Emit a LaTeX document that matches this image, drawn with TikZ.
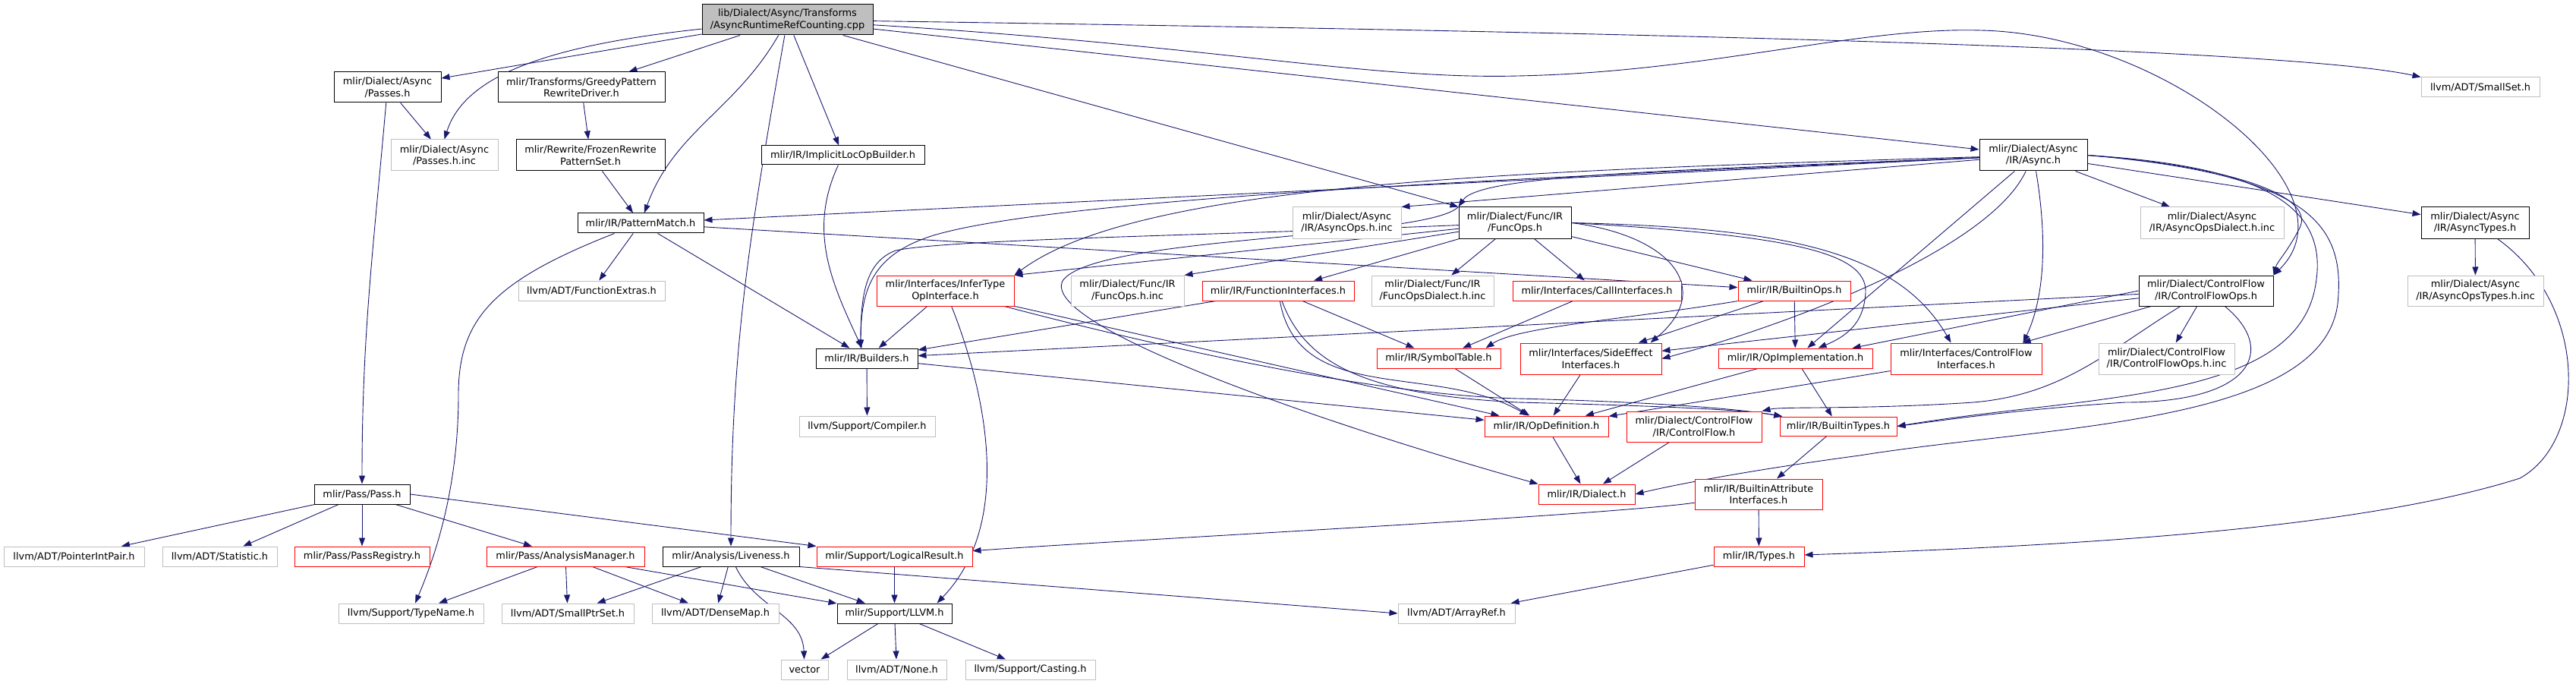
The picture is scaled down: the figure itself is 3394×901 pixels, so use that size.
\documentclass[tikz,border=0pt]{standalone}
\usepackage{fontspec}
\setmainfont{DejaVu Sans}
\usetikzlibrary{arrows.meta, backgrounds}
\definecolor{incE}{RGB}{ 25, 25,112}
\definecolor{incR}{RGB}{255,  0,  0}
\definecolor{incG}{RGB}{191,191,191}

\begin{document}
\begin{tikzpicture}[
    x=1pt, y=-1pt,
    hdr/.style={draw=black, fill=white, line width=1pt, inner sep=0pt, align=center,
                font={\fontsize{12.9}{15.6}\selectfont}},
    hdrred/.style={hdr, draw=incR},
    hdrgray/.style={hdr, draw=incG},
    hdrroot/.style={hdr, fill=incG},
    sz/.style 2 args={minimum width=#1pt, minimum height=#2pt},
    inc/.style={draw=incE, line width=0.9pt, -{Triangle[length=11pt, width=8pt]}}
  ]
  \useasboundingbox (0,0) rectangle (3394,901);

  % top rows
  \node[hdrroot, sz={225}{40}] (root) at (1037.5,26) {lib/Dialect/Async/Transforms\\/AsyncRuntimeRefCounting.cpp};
  \node[hdr, sz={141}{40}] (asyncpasses) at (510.5,115) {mlir/Dialect/Async\\/Passes.h};
  \node[hdr, sz={220}{40}] (greedy) at (766,115) {mlir/Transforms/GreedyPattern\\RewriteDriver.h};
  \node[hdrgray, sz={156}{26}] (smallset) at (3268,115) {llvm/ADT/SmallSet.h};
  \node[hdrgray, sz={141}{41}] (passesinc) at (585.5,204.5) {mlir/Dialect/Async\\/Passes.h.inc};
  \node[hdr, sz={196}{41}] (frozen) at (778,204.5) {mlir/Rewrite/FrozenRewrite\\PatternSet.h};
  \node[hdr, sz={215}{25}] (implicit) at (1110.5,204.5) {mlir/IR/ImplicitLocOpBuilder.h};
  \node[hdr, sz={142}{41}] (asyncir) at (2679,204.5) {mlir/Dialect/Async\\/IR/Async.h};
  \node[hdr, sz={166}{26}] (patternmatch) at (844,294) {mlir/IR/PatternMatch.h};
  \node[hdrgray, sz={143}{41}] (asyncopsinc) at (1774.5,293.5) {mlir/Dialect/Async\\/IR/AsyncOps.h.inc};
  \node[hdr, sz={148}{41}] (funcops) at (1996,293.5) {mlir/Dialect/Func/IR\\/FuncOps.h};
  \node[hdrgray, sz={189}{41}] (asyncdialectinc) at (2914.5,293.5) {mlir/Dialect/Async\\/IR/AsyncOpsDialect.h.inc};
  \node[hdr, sz={142}{41}] (asynctypes) at (3261,293.5) {mlir/Dialect/Async\\/IR/AsyncTypes.h};

  % middle rows
  \node[hdrgray, sz={193}{26}] (functionextras) at (779.5,383) {llvm/ADT/FunctionExtras.h};
  \node[hdrred, sz={181}{40}] (infertype) at (1245.5,383) {mlir/Interfaces/InferType\\OpInterface.h};
  \node[hdrgray, sz={149}{40}] (funcopsinc) at (1485.5,383) {mlir/Dialect/Func/IR\\/FuncOps.h.inc};
  \node[hdrred, sz={200}{26}] (funcinterfaces) at (1684,383) {mlir/IR/FunctionInterfaces.h};
  \node[hdrgray, sz={161}{40}] (funcdialectinc) at (1887.5,383) {mlir/Dialect/Func/IR\\/FuncOpsDialect.h.inc};
  \node[hdrred, sz={222}{26}] (callinterfaces) at (2104,383) {mlir/Interfaces/CallInterfaces.h};
  \node[hdrred, sz={148}{26}] (builtinops) at (2364,383) {mlir/IR/BuiltinOps.h};
  \node[hdr, sz={177}{40}] (cfops) at (2906.5,383) {mlir/Dialect/ControlFlow\\/IR/ControlFlowOps.h};
  \node[hdrgray, sz={179}{40}] (asynctypesinc) at (3261.5,383) {mlir/Dialect/Async\\/IR/AsyncOpsTypes.h.inc};
  \node[hdr, sz={134}{26}] (builders) at (1142,472) {mlir/IR/Builders.h};
  \node[hdrred, sz={163}{26}] (symboltable) at (1895.5,472) {mlir/IR/SymbolTable.h};
  \node[hdrred, sz={186}{41}] (sideeffect) at (2096,472.5) {mlir/Interfaces/SideEffect\\Interfaces.h};
  \node[hdrred, sz={203}{26}] (opimpl) at (2365.5,472) {mlir/IR/OpImplementation.h};
  \node[hdrred, sz={199}{41}] (cfinterfaces) at (2590.5,472.5) {mlir/Interfaces/ControlFlow\\Interfaces.h};
  \node[hdrgray, sz={179}{41}] (cfopsinc) at (2854.5,472.5) {mlir/Dialect/ControlFlow\\/IR/ControlFlowOps.h.inc};
  \node[hdrgray, sz={179}{27}] (compiler) at (1142.5,561.5) {llvm/Support/Compiler.h};
  \node[hdrred, sz={163}{27}] (opdef) at (2037.5,561.5) {mlir/IR/OpDefinition.h};
  \node[hdrred, sz={178}{40}] (cfh) at (2232,562) {mlir/Dialect/ControlFlow\\/IR/ControlFlow.h};
  \node[hdrred, sz={154}{25}] (builtintypes) at (2422,561.5) {mlir/IR/BuiltinTypes.h};

  % bottom rows
  \node[hdr, sz={126}{26}] (passh) at (477,651) {mlir/Pass/Pass.h};
  \node[hdrred, sz={127}{26}] (dialect) at (2090.5,651) {mlir/IR/Dialect.h};
  \node[hdrred, sz={168}{40}] (builtinattr) at (2317,651) {mlir/IR/BuiltinAttribute\\Interfaces.h};
  \node[hdrgray, sz={185}{26}] (pointerint) at (97.5,733) {llvm/ADT/PointerIntPair.h};
  \node[hdrgray, sz={151}{26}] (statistic) at (289.5,733) {llvm/ADT/Statistic.h};
  \node[hdrred, sz={178}{26}] (passregistry) at (477,733) {mlir/Pass/PassRegistry.h};
  \node[hdrred, sz={208}{26}] (analysismgr) at (745,733) {mlir/Pass/AnalysisManager.h};
  \node[hdr, sz={180}{26}] (liveness) at (963,733) {mlir/Analysis/Liveness.h};
  \node[hdrred, sz={205}{26}] (logicalresult) at (1178.5,733) {mlir/Support/LogicalResult.h};
  \node[hdrred, sz={119}{26}] (types) at (2317.5,733) {mlir/IR/Types.h};
  \node[hdrgray, sz={191}{26}] (typename) at (541.5,808) {llvm/Support/TypeName.h};
  \node[hdrgray, sz={174}{26}] (smallptrset) at (748,808) {llvm/ADT/SmallPtrSet.h};
  \node[hdrgray, sz={167}{26}] (densemap) at (942.5,808) {llvm/ADT/DenseMap.h};
  \node[hdr, sz={151}{26}] (llvmh) at (1178.5,808) {mlir/Support/LLVM.h};
  \node[hdrgray, sz={154}{26}] (arrayref) at (1919,808) {llvm/ADT/ArrayRef.h};
  \node[hdrgray, sz={62}{26}] (vector) at (1060,882) {vector};
  \node[hdrgray, sz={131}{26}] (none) at (1181.5,882) {llvm/ADT/None.h};
  \node[hdrgray, sz={171}{26}] (casting) at (1357.5,882) {llvm/Support/Casting.h};

  \begin{scope}[on background layer]
    % the source file
    \draw[inc] (root) -- (asyncpasses);
    \draw[inc] (root) .. controls (720,60) and (612,100) .. (passesinc.north);
    \draw[inc] (root) -- (greedy);
    \draw[inc] (root) to[out=-120, in=70] (patternmatch);
    \draw[inc] (root) to[out=-100, in=90] (liveness);
    \draw[inc] (root) -- (implicit);
    \draw[inc] (root) -- (funcops.north west);
    \draw[inc] (root) -- (asyncir);
    \draw[inc] (root) .. controls (2000,40) and (3000,60) .. (smallset.north west);
    \draw[inc] (root) .. controls (1600,60) and (1800,105) .. (2000,100)
      .. controls (2250,95) and (2450,35) .. (2610,40)
      .. controls (2850,45) and (3110,250) .. (cfops.north east);
    % Passes.h, rewrite driver
    \draw[inc] (asyncpasses) -- (passesinc);
    \draw[inc] (asyncpasses) to[out=-95, in=90] (passh);
    \draw[inc] (greedy) -- (frozen);
    \draw[inc] (frozen) -- (patternmatch);
    \draw[inc] (implicit) to[out=-115, in=115] (builders);
    % PatternMatch.h
    \draw[inc] (patternmatch) -- (functionextras);
    \draw[inc] (patternmatch) -- (builders);
    \draw[inc] (patternmatch) .. controls (650,370) and (604,420) .. (604,520)
      .. controls (604,650) and (570,740) .. (typename);
    \draw[inc] (patternmatch) -- (builtinops);
    % Async.h
    \draw[inc] (asyncir) -- (patternmatch);
    \draw[inc] (asyncir) -- (asyncopsinc.north east);
    \draw[inc] (asyncir) .. controls (2000,235) and (1400,260) .. (1230,310)
      .. controls (1150,335) and (1134,380) .. ([xshift=-8pt]builders.north);
    \draw[inc] (asyncir) .. controls (2000,225) and (1500,240) .. (infertype.north east);
    \draw[inc] (asyncir) .. controls (2200,225) and (1950,230) .. (funcops.north west);
    \draw[inc] (asyncir) -- (opimpl);
    \draw[inc] (asyncir) .. controls (2620,330) and (2350,430) .. (sideeffect.east);
    \draw[inc] (asyncir) .. controls (2700,330) and (2690,400) .. ([xshift=-25pt]cfinterfaces.north east);
    \draw[inc] (asyncir) -- (asyncdialectinc);
    \draw[inc] (asyncir) -- (asynctypes);
    \draw[inc] (asyncir.east) .. controls (2950,220) and (3050,260) .. (3030,300)
      .. controls (3015,330) and (3000,345) .. (cfops.north east);
    \draw[inc] (asyncir.east) .. controls (3000,220) and (3070,280) .. (3050,380)
      .. controls (3020,530) and (2750,520) .. (builtintypes.east);
    \draw[inc] (asyncir.east) .. controls (3050,230) and (3090,300) .. (3080,400)
      .. controls (3060,560) and (2700,560) .. (2450,600)
      .. controls (2300,620) and (2200,640) .. (dialect.east);
    % FuncOps.h
    \draw[inc] (funcops) -- (infertype.north east);
    \draw[inc] (funcops) -- (funcopsinc.north east);
    \draw[inc] (funcops) -- (funcinterfaces);
    \draw[inc] (funcops) -- (funcdialectinc);
    \draw[inc] (funcops) -- (callinterfaces);
    \draw[inc] (funcops) -- (builtinops);
    \draw[inc] (funcops) .. controls (1600,310) and (1250,315) .. (1180,330)
      .. controls (1140,345) and (1134,390) .. ([xshift=-8pt]builders.north);
    \draw[inc] (funcops.north west) .. controls (1880,315) and (1440,310) .. (1400,370)
      .. controls (1370,430) and (1750,560) .. (dialect.north west);
    \draw[inc] (funcops.east) .. controls (2200,310) and (2260,380) .. ([xshift=-15pt]sideeffect.north east);
    \draw[inc] (funcops.east) .. controls (2350,310) and (2460,330) .. (2458,385)
      .. controls (2456,420) and (2440,440) .. ([xshift=30pt]opimpl.north);
    \draw[inc] (funcops.east) .. controls (2350,300) and (2500,330) .. ([xshift=-20pt]cfinterfaces.north);
    % interfaces
    \draw[inc] (infertype) -- (builders);
    \draw[inc] (infertype) -- (opdef);
    \draw[inc] (infertype) .. controls (1500,450) and (1800,520) .. (2000,525)
      .. controls (2200,530) and (2300,540) .. (builtintypes);
    \draw[inc] (infertype) .. controls (1300,520) and (1335,690) .. ([xshift=-20pt]llvmh.north east);
    \draw[inc] (funcinterfaces) -- (builders);
    \draw[inc] (funcinterfaces) -- (symboltable);
    \draw[inc] (funcinterfaces) to[out=-80, in=150] (opdef);
    \draw[inc] (funcinterfaces) .. controls (1720,480) and (1800,520) .. (2000,530)
      .. controls (2200,535) and (2300,540) .. (builtintypes);
    \draw[inc] (callinterfaces) -- (symboltable);
    \draw[inc] (builtinops) -- (opimpl);
    \draw[inc] (builtinops.south west) .. controls (2150,420) and (2000,430) .. ([xshift=-20pt]symboltable.north east);
    \draw[inc] (builtinops) -- (sideeffect);
    \draw[inc] (builders) -- (opdef);
    \draw[inc] (builders) -- (compiler);
    \draw[inc] (symboltable) -- (opdef);
    \draw[inc] (sideeffect) -- (opdef);
    \draw[inc] (opimpl) -- (opdef);
    \draw[inc] (opimpl) -- (builtintypes);
    \draw[inc] (cfinterfaces) -- (opdef);
    % ControlFlowOps.h
    \draw[inc] (cfops) -- (cfopsinc);
    \draw[inc] (cfops) -- (builders);
    \draw[inc] (cfops.west) -- ([xshift=75pt]opimpl.north);
    \draw[inc] (cfops) -- (sideeffect);
    \draw[inc] (cfops) -- (cfinterfaces);
    \draw[inc] (cfops) .. controls (2780,460) and (2720,520) .. (2600,530)
      .. controls (2450,540) and (2350,535) .. (cfh.north east);
    \draw[inc] (cfops) .. controls (3000,460) and (2970,530) .. (2800,530)
      .. controls (2650,540) and (2550,555) .. (builtintypes.east);
    % lower IR headers
    \draw[inc] (opdef) -- (dialect);
    \draw[inc] (cfh) -- (dialect);
    \draw[inc] (builtintypes) -- (builtinattr);
    \draw[inc] (builtinattr) -- (types);
    \draw[inc] (builtinattr) .. controls (2100,680) and (1500,710) .. (logicalresult);
    \draw[inc] (types) -- (arrayref);
    \draw[inc] (asynctypes) -- (asynctypesinc);
    \draw[inc] (asynctypes) .. controls (3410,400) and (3410,580) .. (3320,630)
      .. controls (3100,700) and (2700,720) .. (types);
    % Pass.h and support
    \draw[inc] (passh) -- (pointerint);
    \draw[inc] (passh) -- (statistic);
    \draw[inc] (passh) -- (passregistry);
    \draw[inc] (passh) -- (analysismgr);
    \draw[inc] (passh.east) -- (logicalresult.north west);
    \draw[inc] (analysismgr) -- (typename);
    \draw[inc] (analysismgr) -- (smallptrset);
    \draw[inc] (analysismgr) -- (densemap);
    \draw[inc] (analysismgr) -- (llvmh);
    \draw[inc] (liveness) -- (smallptrset);
    \draw[inc] (liveness) -- (densemap);
    \draw[inc] (liveness) to[out=-65, in=92] (vector);
    \draw[inc] (liveness) -- (llvmh);
    \draw[inc] (liveness.south east) -- (arrayref.west);
    \draw[inc] (logicalresult) -- (llvmh);
    \draw[inc] (llvmh) -- (vector);
    \draw[inc] (llvmh) -- (none);
    \draw[inc] (llvmh) -- (casting);
  \end{scope}
\end{tikzpicture}
\end{document}
